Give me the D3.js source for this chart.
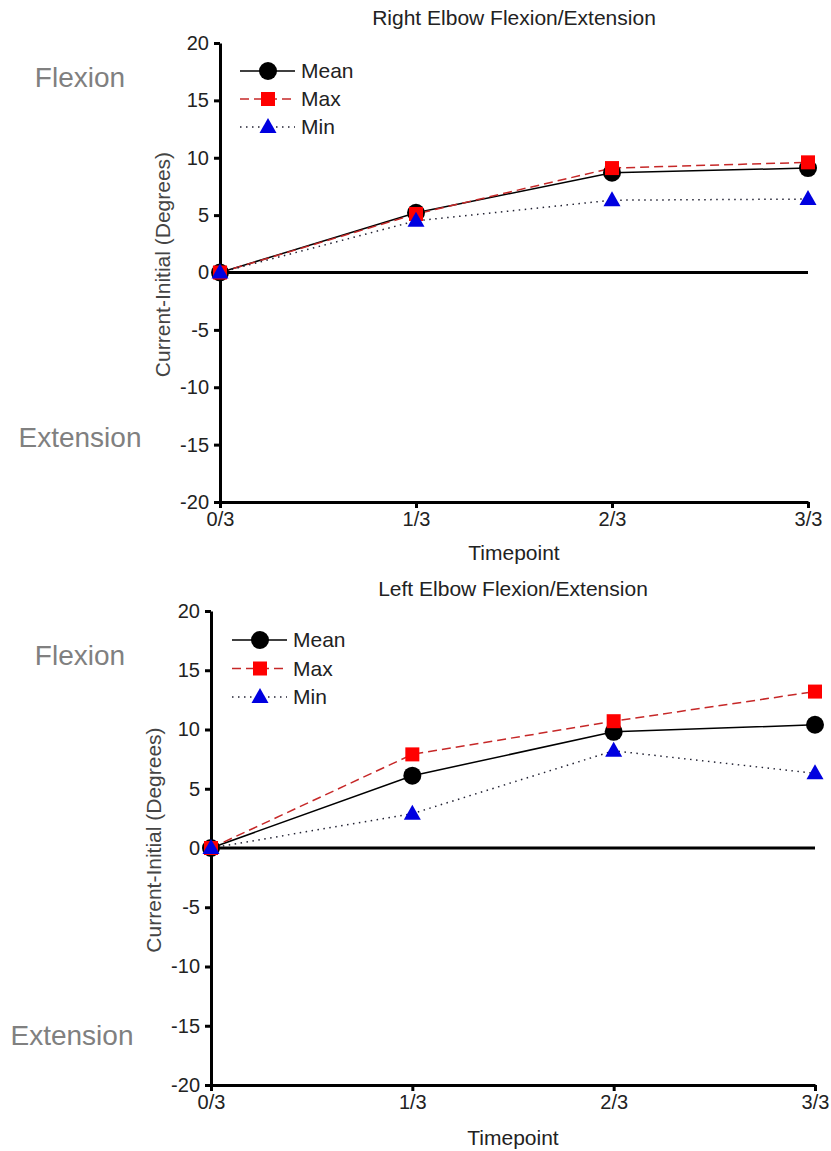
<!DOCTYPE html>
<html>
<head>
<meta charset="utf-8">
<script src="https://cdn.jsdelivr.net/npm/d3@7"></script>
<style>
  body { margin: 0; background: #fff; }
  svg { display: block; font-family: "Liberation Sans", Arial, sans-serif; }
  .tick text { fill: #222; font-size: 20px; }
  .axis path, .axis line { stroke: #000; stroke-width: 3; }
</style>
</head>
<body>
<div id="chart"></div>
<script>
var svgWidth = 831;
var svgHeight = 1151;

// data
var timepoints = ["0/3", "1/3", "2/3", "3/3"];
var yTicks = [-20, -15, -10, -5, 0, 5, 10, 15, 20];

var rightMean = [0, 5.2, 8.7, 9.1];
var rightMax = [0, 5.1, 9.1, 9.6];
var rightMin = [0, 4.5, 6.3, 6.4];

var leftMean = [0, 6.1, 9.8, 10.4];
var leftMax = [0, 7.9, 10.7, 13.2];
var leftMin = [0, 2.9, 8.2, 6.3];

var seriesNames = ["Mean", "Max", "Min"];

var svg = d3.select("#chart")
  .append("svg")
  .attr("width", svgWidth)
  .attr("height", svgHeight);

// panel layout
var panels = [
  {
    title: "Right Elbow Flexion/Extension",
    series: [rightMean, rightMax, rightMin],
    left: 220, right: 808, top: 43, bottom: 502,
    titleY: 25, xLabelY: 560,
    legend: { x: 240, y: 71, gap: 28 },
    flex: [80, 77], ext: [80, 437]
  },
  {
    title: "Left Elbow Flexion/Extension",
    series: [leftMean, leftMax, leftMin],
    left: 211, right: 815, top: 611, bottom: 1085,
    titleY: 596, xLabelY: 1145,
    legend: { x: 232, y: 640, gap: 28.5 },
    flex: [80, 655], ext: [72, 1035]
  }
];

// drawing styles per series
var styles = [
  { stroke: "#000", dash: null, width: 1.5, fill: "#000", shape: "circle" },
  { stroke: "#c62828", dash: "9,5", width: 1.5, fill: "#f00", shape: "square" },
  { stroke: "#223", dash: "1.5,4.5", width: 1.5, fill: "#0000e0", shape: "triangle" }
];

function drawMarker(g, shape, fill, cx, cy) {
  if (shape === "circle") {
    g.append("circle").attr("cx", cx).attr("cy", cy).attr("r", 9).attr("fill", fill);
  } else if (shape === "square") {
    g.append("rect").attr("x", cx - 7).attr("y", cy - 7)
      .attr("width", 14).attr("height", 14).attr("fill", fill);
  } else {
    g.append("path")
      .attr("d", `M${cx},${cy - 9}L${cx + 8.5},${cy + 6}L${cx - 8.5},${cy + 6}Z`)
      .attr("fill", fill);
  }
}

panels.forEach(function(p) {
  var x = d3.scalePoint().domain(timepoints).range([p.left, p.right]);
  var y = d3.scaleLinear().domain([-20, 20]).range([p.bottom, p.top]);
  var g = svg.append("g");

  // title
  g.append("text")
    .attr("x", (p.left + p.right) / 2)
    .attr("y", p.titleY)
    .attr("text-anchor", "middle")
    .attr("fill", "#222")
    .style("font-size", "21px")
    .text(p.title);

  // axes (plain hyphen for negatives, as in the original)
  g.append("g")
    .attr("class", "axis")
    .attr("transform", `translate(${p.left},0)`)
    .call(d3.axisLeft(y).tickValues(yTicks).tickFormat(d => String(d))
      .tickSize(6).tickSizeOuter(0).tickPadding(5));

  g.append("g")
    .attr("class", "axis")
    .attr("transform", `translate(0,${p.bottom})`)
    .call(d3.axisBottom(x).tickSize(6).tickSizeOuter(0).tickPadding(4));

  // zero line
  g.append("line")
    .attr("x1", x(timepoints[0])).attr("x2", x(timepoints[3]))
    .attr("y1", y(0)).attr("y2", y(0))
    .attr("stroke", "#000").attr("stroke-width", 3);

  // axis labels
  g.append("text")
    .attr("x", (p.left + p.right) / 2)
    .attr("y", p.xLabelY)
    .attr("text-anchor", "middle")
    .attr("fill", "#222")
    .style("font-size", "21px")
    .text("Timepoint");

  g.append("text")
    .attr("transform", `translate(${p.left - 57},${(p.top + p.bottom) / 2 - 8}) rotate(-90)`)
    .attr("text-anchor", "middle")
    .attr("dy", "0.35em")
    .attr("fill", "#444")
    .style("font-size", "21px")
    .text("Current-Initial (Degrees)");

  // Flexion / Extension notes
  g.append("text").attr("x", p.flex[0]).attr("y", p.flex[1])
    .attr("text-anchor", "middle").attr("dy", "0.35em")
    .attr("fill", "#808080").style("font-size", "28px").text("Flexion");
  g.append("text").attr("x", p.ext[0]).attr("y", p.ext[1])
    .attr("text-anchor", "middle").attr("dy", "0.35em")
    .attr("fill", "#808080").style("font-size", "28px").text("Extension");

  // lines
  p.series.forEach(function(vals, i) {
    var s = styles[i];
    var line = d3.line()
      .x((d, j) => x(timepoints[j]))
      .y(d => y(d));
    g.append("path")
      .datum(vals)
      .attr("d", line)
      .attr("fill", "none")
      .attr("stroke", s.stroke)
      .attr("stroke-width", s.width)
      .attr("stroke-dasharray", s.dash);
  });

  // markers
  p.series.forEach(function(vals, i) {
    var s = styles[i];
    vals.forEach(function(v, j) {
      drawMarker(g, s.shape, s.fill, x(timepoints[j]), y(v));
    });
  });

  // legend
  seriesNames.forEach(function(name, i) {
    var s = styles[i];
    var ly = p.legend.y + i * p.legend.gap;
    g.append("line")
      .attr("x1", p.legend.x).attr("x2", p.legend.x + 55)
      .attr("y1", ly).attr("y2", ly)
      .attr("stroke", s.stroke)
      .attr("stroke-width", s.width)
      .attr("stroke-dasharray", s.dash);
    drawMarker(g, s.shape, s.fill, p.legend.x + 28, ly);
    g.append("text")
      .attr("x", p.legend.x + 61)
      .attr("y", ly)
      .attr("dy", "0.35em")
      .attr("fill", "#222")
      .style("font-size", "21px")
      .text(name);
  });
});
</script>
</body>
</html>
